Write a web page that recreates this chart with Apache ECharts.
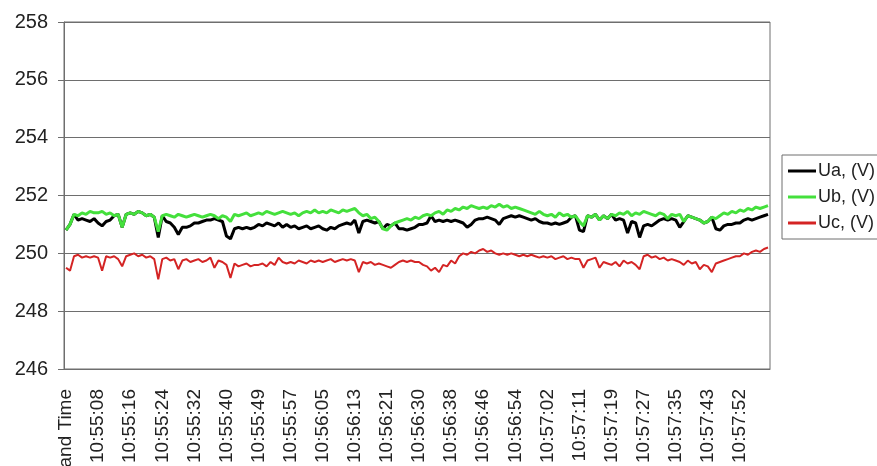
<!DOCTYPE html>
<html>
<head>
<meta charset="utf-8">
<script src="https://cdn.jsdelivr.net/npm/echarts@6/dist/echarts.min.js"></script>
<style>
html,body{margin:0;padding:0;background:#fff;}
#c{width:877px;height:466px;}
</style>
</head>
<body>
<div id="c"></div>
<script>
// Tick labels shown on the category axis (one every 8 samples)
var tickLabels = ['Date and Time','10:55:08','10:55:16','10:55:24','10:55:32','10:55:40','10:55:49','10:55:57',
  '10:56:05','10:56:13','10:56:21','10:56:30','10:56:38','10:56:46','10:56:54','10:57:02',
  '10:57:11','10:57:19','10:57:27','10:57:35','10:57:43','10:57:52'];
var samplesPerTick = 8;

var ua = [
250.8, 251.0, 251.35, 251.15, 251.2, 251.15, 251.1, 251.2,
251.05, 250.95, 251.1, 251.15, 251.3, 251.35, 250.9, 251.35,
251.4, 251.35, 251.45, 251.4, 251.3, 251.35, 251.25, 250.55,
251.3, 251.1, 251.05, 250.9, 250.65, 250.9, 250.9, 250.95,
251.05, 251.05, 251.1, 251.15, 251.15, 251.2, 251.15, 251.1,
250.6, 250.5, 250.85, 250.9, 250.85, 250.9, 250.85, 250.9,
251.0, 250.95, 251.05, 251.0, 250.95, 251.05, 250.9, 251.0,
250.9, 250.95, 250.85, 250.9, 250.95, 250.85, 250.9, 250.95,
250.85, 250.8, 250.9, 250.85, 250.95, 251.0, 251.05, 251.0,
251.15, 250.7, 251.1, 251.15, 251.1, 251.05, 251.1, 250.85,
251.0, 250.95, 251.05, 250.85, 250.85, 250.8, 250.85, 250.9,
251.0, 251.0, 251.05, 251.3, 251.1, 251.15, 251.1, 251.15,
251.1, 251.15, 251.1, 251.05, 250.9, 251.0, 251.15, 251.2,
251.2, 251.25, 251.2, 251.15, 251.0, 251.2, 251.25, 251.3,
251.25, 251.3, 251.25, 251.2, 251.15, 251.2, 251.1, 251.05,
251.05, 251.0, 251.05, 251.0, 251.05, 251.1, 251.25, 251.3,
250.8, 250.75, 251.3, 251.25, 251.35, 251.15, 251.3, 251.2,
251.35, 251.15, 251.2, 251.15, 250.7, 251.1, 251.05, 250.55,
250.95, 251.0, 250.95, 251.05, 251.15, 251.2, 251.15, 251.2,
251.15, 250.9, 251.1, 251.3, 251.25, 251.2, 251.15, 251.05,
251.1, 251.25, 250.85, 250.8, 250.95, 251.0, 251.0, 251.05,
251.05, 251.15, 251.2, 251.15, 251.2, 251.25, 251.3, 251.35
];

var ub = [
250.8, 251.0, 251.35, 251.3, 251.4, 251.35, 251.45, 251.4,
251.4, 251.45, 251.35, 251.4, 251.3, 251.35, 250.9, 251.35,
251.4, 251.35, 251.45, 251.4, 251.3, 251.35, 251.25, 250.75,
251.3, 251.35, 251.3, 251.25, 251.35, 251.3, 251.25, 251.3,
251.35, 251.3, 251.25, 251.3, 251.35, 251.3, 251.2, 251.3,
251.25, 251.1, 251.35, 251.3, 251.35, 251.4, 251.3, 251.35,
251.4, 251.35, 251.45, 251.4, 251.35, 251.4, 251.45, 251.4,
251.35, 251.4, 251.3, 251.4, 251.45, 251.4, 251.5, 251.4,
251.45, 251.4, 251.5, 251.45, 251.4, 251.5, 251.45, 251.5,
251.55, 251.4, 251.3, 251.35, 251.2, 251.25, 251.1, 250.85,
250.8, 250.95, 251.05, 251.1, 251.15, 251.2, 251.15, 251.25,
251.2, 251.3, 251.35, 251.3, 251.4, 251.45, 251.35, 251.5,
251.45, 251.55, 251.5, 251.6, 251.55, 251.65, 251.6, 251.55,
251.6, 251.55, 251.65, 251.6, 251.7, 251.6, 251.65, 251.55,
251.6, 251.55, 251.5, 251.45, 251.4, 251.35, 251.45, 251.35,
251.3, 251.35, 251.25, 251.4, 251.3, 251.35, 251.25, 251.3,
251.1, 250.95, 251.3, 251.25, 251.35, 251.15, 251.3, 251.2,
251.35, 251.3, 251.4, 251.35, 251.45, 251.3, 251.4, 251.35,
251.45, 251.4, 251.35, 251.3, 251.4, 251.35, 251.2, 251.35,
251.3, 251.35, 251.1, 251.3, 251.25, 251.2, 251.15, 251.05,
251.1, 251.25, 251.2, 251.3, 251.4, 251.35, 251.45, 251.4,
251.5, 251.45, 251.55, 251.5, 251.6, 251.55, 251.6, 251.65
];

var uc = [
249.5, 249.4, 249.9, 249.95, 249.85, 249.9, 249.85, 249.9,
249.85, 249.4, 249.9, 249.85, 249.9, 249.8, 249.55, 249.9,
249.95, 250.0, 249.9, 249.95, 249.85, 249.9, 249.8, 249.1,
249.8, 249.85, 249.75, 249.8, 249.45, 249.75, 249.8, 249.7,
249.75, 249.8, 249.7, 249.75, 249.85, 249.5, 249.75, 249.7,
249.6, 249.15, 249.65, 249.55, 249.6, 249.65, 249.55, 249.6,
249.6, 249.65, 249.55, 249.7, 249.6, 249.85, 249.7, 249.65,
249.7, 249.65, 249.75, 249.7, 249.65, 249.75, 249.7, 249.75,
249.7, 249.75, 249.8, 249.7, 249.75, 249.8, 249.75, 249.8,
249.75, 249.35, 249.7, 249.65, 249.7, 249.6, 249.65, 249.6,
249.55, 249.5, 249.6, 249.7, 249.75, 249.7, 249.75, 249.7,
249.7, 249.6, 249.55, 249.4, 249.5, 249.35, 249.6, 249.55,
249.75, 249.65, 249.9, 250.0, 249.95, 250.05, 250.0, 250.1,
250.15, 250.05, 250.1, 250.0, 249.95, 250.0, 249.95, 250.0,
249.95, 249.9, 249.95, 249.9, 249.95, 249.9, 249.85, 249.9,
249.85, 249.9, 249.8, 249.85, 249.9, 249.8, 249.85, 249.8,
249.8, 249.5, 249.75, 249.8, 249.85, 249.5, 249.7, 249.65,
249.6, 249.7, 249.55, 249.75, 249.65, 249.7, 249.6, 249.45,
249.9, 249.95, 249.85, 249.9, 249.8, 249.85, 249.75, 249.8,
249.75, 249.7, 249.6, 249.75, 249.65, 249.7, 249.45, 249.6,
249.55, 249.35, 249.65, 249.7, 249.75, 249.8, 249.85, 249.9,
249.9, 250.0, 249.95, 250.05, 250.1, 250.05, 250.15, 250.2
];

var seriesNames = ['Ua, (V)', 'Ub, (V)', 'Uc, (V)'];

// build category list: tick label followed by unlabeled samples
var categories = [];
tickLabels.forEach(function (t) {
  categories.push(t);
  for (var k = 1; k < samplesPerTick; k++) categories.push('');
});

var chart = echarts.init(document.getElementById('c'), null, {renderer: 'canvas'});
var gridColor = '#6e6e6e';
var font = 'Liberation Sans, Arial, sans-serif';
chart.setOption({
  animation: false,
  backgroundColor: '#ffffff',
  grid: {left: 64, right: 107, top: 22, bottom: 97, containLabel: false, outerBoundsMode: 'none',
         show: true, borderColor: gridColor, borderWidth: 1, backgroundColor: 'transparent'},
  legend: {
    orient: 'vertical',
    left: 782, top: 155,
    padding: [6, 20, 6, 6],
    itemGap: 6,
    itemWidth: 28, itemHeight: 3,
    icon: 'rect',
    borderColor: gridColor, borderWidth: 1,
    backgroundColor: '#fff',
    textStyle: {fontFamily: font, fontSize: 18, color: '#222', lineHeight: 20, padding: [0, 0, 0, -3]},
    data: seriesNames
  },
  xAxis: {
    type: 'category',
    data: categories,
    boundaryGap: true,
    axisLine: {show: true, lineStyle: {color: gridColor, width: 1}},
    axisTick: {show: false},
    axisLabel: {interval: samplesPerTick - 1, rotate: 90, margin: 20, fontFamily: font, fontSize: 19, color: '#222'},
    splitLine: {show: false}
  },
  yAxis: {
    type: 'value',
    min: 246, max: 258, interval: 2,
    axisLine: {show: true, lineStyle: {color: gridColor, width: 1}},
    axisTick: {show: true, length: 6, lineStyle: {color: gridColor}},
    axisLabel: {margin: 16, fontFamily: font, fontSize: 20, color: '#222'},
    splitLine: {show: true, lineStyle: {color: gridColor, width: 1}}
  },
  series: [
    {name: seriesNames[0], type: 'line', data: ua, symbol: 'none', lineStyle: {color: '#000000', width: 3}, itemStyle: {color: '#000000'}},
    {name: seriesNames[1], type: 'line', data: ub, symbol: 'none', lineStyle: {color: '#44e03c', width: 3}, itemStyle: {color: '#44e03c'}},
    {name: seriesNames[2], type: 'line', data: uc, symbol: 'none', lineStyle: {color: '#d42424', width: 2}, itemStyle: {color: '#d42424'}}
  ]
});
</script>
</body>
</html>
